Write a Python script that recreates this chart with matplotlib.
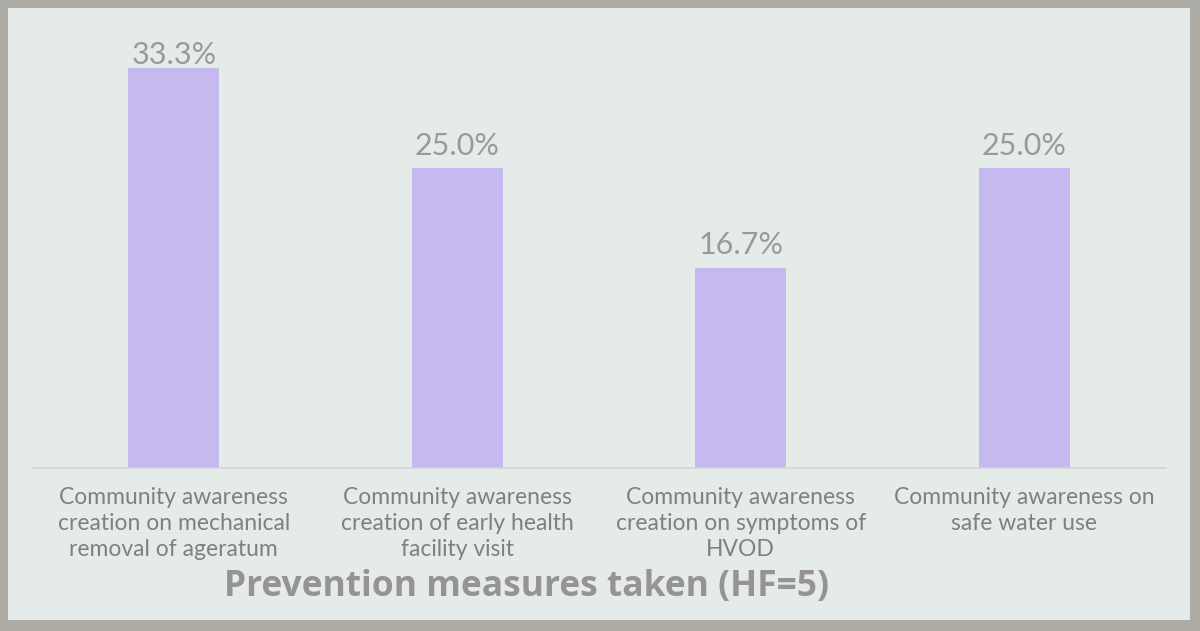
import matplotlib.pyplot as plt
from matplotlib import patches

categories = [
    "Community awareness\ncreation on mechanical\nremoval of ageratum",
    "Community awareness\ncreation of early health\nfacility visit",
    "Community awareness\ncreation on symptoms of\nHVOD",
    "Community awareness on\nsafe water use",
]
values = [33.3, 25.0, 16.7, 25.0]
value_labels = ["33.3%", "25.0%", "16.7%", "25.0%"]
title = "Prevention measures taken (HF=5)"

W, H = 1200, 631
fig = plt.figure(figsize=(W / 100, H / 100), dpi=100)
fig.patch.set_facecolor('#aeaba4')

# projected slide area
slide = patches.Rectangle((8 / W, 1 - 620 / H), (1190 - 8) / W, (620 - 8) / H,
                          transform=fig.transFigure, facecolor='#e5ebe9',
                          edgecolor='none', zorder=-5)
fig.patches.append(slide)

# axes: x from 32 to 1166 px, baseline at y=468, 12 px per percent
x0, x1 = 32, 1166
base = 468
top = 20
ax = fig.add_axes([x0 / W, 1 - base / H, (x1 - x0) / W, (base - top) / H])
ax.set_zorder(1)
ax.set_facecolor('none')
ax.set_xlim(-0.5, 3.5)
ax.set_ylim(0, (base - top) / 12.0)

xs = range(len(values))
ax.bar(xs, values, width=0.32, color='#c5b9ef', zorder=2)
# labels sit above the bars but are kept inside the plot area
label_max = 33.7
for x, v, lab in zip(xs, values, value_labels):
    ax.text(x, min(v + 1.1, label_max), lab, ha='center', va='baseline',
            fontsize=22, family='Lato', color='#9a9a9a')

for s in ['top', 'right', 'left']:
    ax.spines[s].set_visible(False)
ax.spines['bottom'].set_color('#d3d6d6')
ax.spines['bottom'].set_linewidth(1.2)
ax.set_yticks([])
ax.set_xticks(list(xs))
ax.set_xticklabels(categories, fontsize=16.5, family='Lato', color='#808080',
                   linespacing=1.27)
ax.tick_params(axis='x', length=0, pad=14)

fig.text(527 / W, 1 - 587 / H, title, ha='center', va='center', fontsize=25.5,
         fontweight='bold', family='Open Sans', color='#969492', zorder=3)

fig.savefig('out.png', dpi=100, facecolor=fig.get_facecolor())
